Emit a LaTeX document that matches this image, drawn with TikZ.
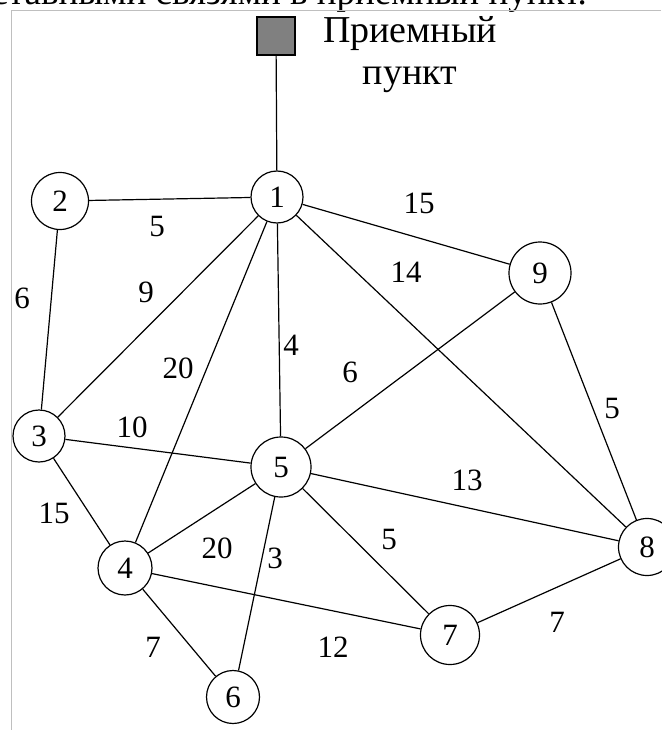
\documentclass[tikz,border=0pt]{standalone}
\usepackage{fontspec}
\setmainfont{Liberation Serif}
\begin{document}
\begin{tikzpicture}[x=1pt,y=-1pt,
  vert/.style={circle,draw,line width=1.2pt,inner sep=0pt,font=\fontsize{31}{34}\selectfont},
  edge/.style={line width=1.2pt},
  wlabel/.style={font=\fontsize{31}{34}\selectfont,inner sep=0pt}]
\useasboundingbox (0,0) rectangle (661,730);
\begin{scope}
\clip (0,0) rectangle (661,730);
\node[anchor=base east,inner sep=0pt,font=\fontsize{37}{40}\selectfont] (cut) at (587,5) {составными связями в приемный пункт.};
\end{scope}
\draw[gray!50,line width=0.8pt] (661,10) -- (11,10) -- (11,730);
\node[draw,fill=gray,line width=1.2pt,minimum size=38pt,inner sep=0pt] (pp) at (276,36) {};
\node[font=\fontsize{38}{42}\selectfont,align=center,inner sep=0pt] (pptext) at (410,55) {Приемный\\пункт};
\node[vert,minimum size=52pt] (n1) at (277,197) {1};
\node[vert,minimum size=57pt] (n2) at (60,201) {2};
\node[vert,minimum size=52pt] (n3) at (39,436) {3};
\node[vert,minimum size=54pt] (n4) at (125,568) {4};
\node[vert,minimum size=60pt] (n5) at (281,467) {5};
\node[vert,minimum size=53pt] (n6) at (233,697) {6};
\node[vert,minimum size=59pt] (n7) at (450,635) {7};
\node[vert,minimum size=57pt] (n8) at (647,547) {8};
\node[vert,minimum size=62pt] (n9) at (540,273) {9};
\draw[edge] (pp) -- (n1);
\draw[edge] (n1) -- (n2);
\draw[edge] (n2) -- (n3);
\draw[edge] (n1) -- (n3);
\draw[edge] (n1) -- (n4);
\draw[edge] (n1) -- (n5);
\draw[edge] (n1) -- (n9);
\draw[edge] (n1) -- (n8);
\draw[edge] (n9) -- (n5);
\draw[edge] (n9) -- (n8);
\draw[edge] (n3) -- (n5);
\draw[edge] (n3) -- (n4);
\draw[edge] (n5) -- (n4);
\draw[edge] (n5) -- (n6);
\draw[edge] (n5) -- (n8);
\draw[edge] (n5) -- (n7);
\draw[edge] (n4) -- (n7);
\draw[edge] (n4) -- (n6);
\draw[edge] (n7) -- (n8);
\node[wlabel] (w12) at (157,227) {5};
\node[wlabel] (w23) at (22,298) {6};
\node[wlabel] (w13) at (146,292) {9};
\node[wlabel] (w14) at (178,368) {20};
\node[wlabel] (w15) at (291,345) {4};
\node[wlabel] (w35) at (132,427) {10};
\node[wlabel] (w19) at (419,203) {15};
\node[wlabel] (w18) at (406,272) {14};
\node[wlabel] (w95) at (350,372) {6};
\node[wlabel] (w98) at (612,408) {5};
\node[wlabel] (w34) at (54,513) {15};
\node[wlabel] (w54) at (217,548) {20};
\node[wlabel] (w56) at (275,558) {3};
\node[wlabel] (w46) at (153,647) {7};
\node[wlabel] (w47) at (333,647) {12};
\node[wlabel] (w58) at (467,480) {13};
\node[wlabel] (w57) at (389,539) {5};
\node[wlabel] (w78) at (557,622) {7};
\end{tikzpicture}
\end{document}
